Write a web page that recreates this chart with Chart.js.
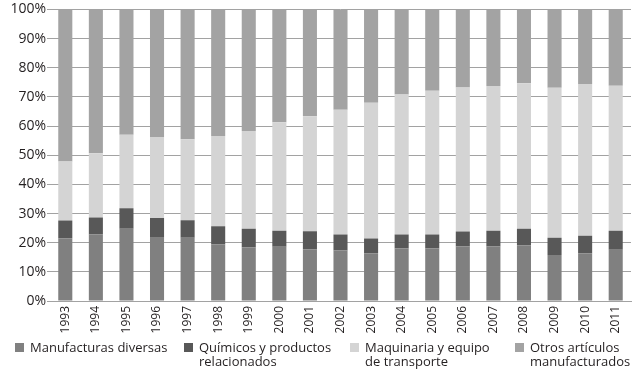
<!DOCTYPE html>
<html>
<head>
<meta charset="utf-8">
<script src="https://cdn.jsdelivr.net/npm/chart.js@4/dist/chart.umd.min.js"></script>
<style>
  html, body { margin: 0; padding: 0; background: #fff; }
  #wrap { width: 643px; height: 373px; position: relative; }
  #wrap canvas { position: absolute; left: 0; top: 0; }
  .item { position: absolute; top: 340px; font: 13px 'Open Sans', 'Noto Sans', sans-serif;
    line-height: 14px; color: #231f20; white-space: nowrap; }
  .item .box { position: absolute; left: 0; top: 3px; width: 9px; height: 9px; }
  .item .txt { margin-left: 15px; }
</style>
</head>
<body>
<div id="wrap"><canvas id="myChart" width="643" height="373"></canvas><div id="legend"></div></div>
<script>
// years on the x axis
const years = ['1993','1994','1995','1996','1997','1998','1999','2000','2001','2002',
  '2003','2004','2005','2006','2007','2008','2009','2010','2011'];

// share of each group (%)
const manufacturas = [21.5, 22.8, 24.8, 21.7, 21.7, 19.5, 18.4, 18.6, 17.7, 17.3,
  16.4, 18.0, 18.0, 18.7, 18.7, 19.1, 15.8, 16.4, 17.6];
const quimicos = [6.1, 5.8, 7.0, 6.8, 6.0, 6.1, 6.4, 5.5, 6.2, 5.5,
  5.0, 4.8, 4.8, 5.1, 5.4, 5.7, 5.9, 6.0, 6.5];
const maquinaria = [20.2, 22.1, 25.2, 27.7, 27.8, 31.0, 33.5, 37.2, 39.5, 42.8,
  46.6, 48.0, 49.3, 49.4, 49.6, 49.9, 51.4, 52.0, 49.7];
const otros = [52.2, 49.3, 43.0, 43.8, 44.5, 43.4, 41.7, 38.7, 36.6, 34.4,
  32.0, 29.2, 27.9, 26.8, 26.3, 25.3, 26.9, 25.6, 26.2];

// legend text, split in lines like the original
const seriesNames = [
  ['Manufacturas diversas'],
  ['Químicos y productos', 'relacionados'],
  ['Maquinaria y equipo', 'de transporte'],
  ['Otros artículos', 'manufacturados']
];

const yTicks = [0, 10, 20, 30, 40, 50, 60, 70, 80, 90, 100];

const colors = ['rgb(128,128,128)', 'rgb(88,88,88)', 'rgb(212,212,212)', 'rgb(163,163,163)'];
const legendLeft = [15, 184, 350, 515];

const font = "'Open Sans', 'Noto Sans', sans-serif";
const textColor = '#231f20';
const gridColor = '#a2a2a2';

// html legend (chart.js legend can't lay out two-line labels in one row here)
const legendEl = document.getElementById('legend');
seriesNames.forEach((lines, i) => {
  const item = document.createElement('div');
  item.className = 'item';
  item.style.left = legendLeft[i] + 'px';
  item.innerHTML = '<span class="box" style="background:' + colors[i] + '"></span>' +
    '<div class="txt">' + lines.join('<br>') + '</div>';
  legendEl.appendChild(item);
});

const myChart = document.getElementById('myChart');

let barChart = new Chart(myChart, {
  type: 'bar',
  data: {
    labels: years,
    datasets: [
      { label: seriesNames[0].join(' '), data: manufacturas, backgroundColor: colors[0] },
      { label: seriesNames[1].join(' '), data: quimicos, backgroundColor: colors[1] },
      { label: seriesNames[2].join(' '), data: maquinaria, backgroundColor: colors[2] },
      { label: seriesNames[3].join(' '), data: otros, backgroundColor: colors[3] }
    ]
  },
  options: {
    responsive: false,
    animation: false,
    layout: { padding: { top: 8.5, right: 12, left: 0, bottom: 34 } },
    datasets: {
      bar: { categoryPercentage: 1, barPercentage: 0.46, borderWidth: 0 }
    },
    scales: {
      x: {
        stacked: true,
        grid: { display: false, drawTicks: false },
        border: { display: true, color: gridColor },
        ticks: {
          color: textColor,
          font: { family: font, size: 12 },
          minRotation: 90,
          maxRotation: 90,
          padding: 5
        },
        afterFit: axis => { axis.height = 38; }
      },
      y: {
        stacked: true,
        min: 0,
        max: 100,
        afterBuildTicks: axis => { axis.ticks = yTicks.map(v => ({ value: v })); },
        afterFit: axis => { axis.width = 50; },
        grid: { color: gridColor, lineWidth: 1, tickLength: 3 },
        border: { display: false },
        ticks: {
          color: textColor,
          font: { family: font, size: 14 },
          padding: 1,
          callback: v => v + '%'
        }
      }
    },
    plugins: {
      tooltip: { enabled: false },
      legend: { display: false }
    }
  }
});
</script>
</body>
</html>
